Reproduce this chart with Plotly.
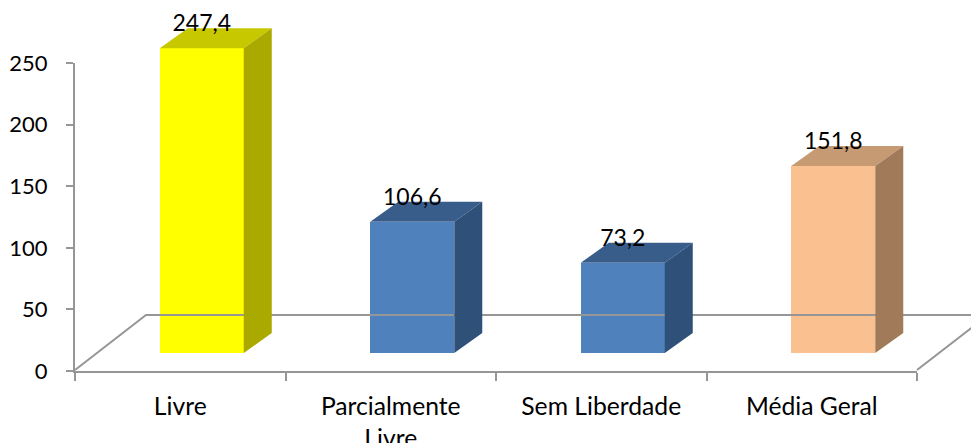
import plotly.graph_objects as go

categories = ["Livre", "Parcialmente<br>Livre", "Sem Liberdade", "Média Geral"]
values = [247.4, 106.6, 73.2, 151.8]
labels = ["247,4", "106,6", "73,2", "151,8"]
front = ["#ffff00", "#4f81bd", "#4f81bd", "#fac090"]
top = ["#c8c800", "#385d8a", "#385d8a", "#c69a73"]
side = ["#a9a900", "#2f5079", "#2f5079", "#a17a5a"]
y_ticks = [0, 50, 100, 150, 200, 250]

MARGIN = 8            # page margin of the browser
W, H = 979, 443 - MARGIN
L, R, T, B = 75 - MARGIN, 917 - MARGIN, 62 - MARGIN, 370 - MARGIN
ux = (R - L) / 4      # px per category
uy = (B - T) / 250    # px per value unit
dx = lambda px: px / ux
dy = lambda px: px / uy

bar_w = dx(84)
shift = dx(21.5)
floor_off = dy(17)
depth_x, depth_y = dx(28), dy(20)
xs = list(range(len(values)))
AXIS = "#969696"

fig = go.Figure()

# floor outline
fx0, fx1 = -0.5, 3.5
fig.add_trace(go.Scatter(
    x=[fx0, fx0 + dx(71), fx1 + dx(71), fx1],
    y=[0, dy(55), dy(55), 0],
    mode="lines", line=dict(color=AXIS, width=2),
    hoverinfo="skip", showlegend=False))

# front faces
fig.add_trace(go.Bar(
    x=[x + shift for x in xs], y=values, base=floor_off, width=bar_w,
    marker=dict(color=front, line=dict(width=0)),
    hoverinfo="skip", showlegend=False))

for x, v, tc, sc in zip(xs, values, top, side):
    xl = x + shift - bar_w / 2
    xr = x + shift + bar_w / 2
    yt = v + floor_off
    fig.add_trace(go.Scatter(
        x=[xl, xr, xr + depth_x, xl + depth_x, xl],
        y=[yt, yt, yt + depth_y, yt + depth_y, yt],
        fill="toself", fillcolor=tc, mode="none",
        hoverinfo="skip", showlegend=False))
    fig.add_trace(go.Scatter(
        x=[xr, xr + depth_x, xr + depth_x, xr, xr],
        y=[floor_off, floor_off + depth_y, yt + depth_y, yt, floor_off],
        fill="toself", fillcolor=sc, mode="none",
        hoverinfo="skip", showlegend=False))

# data labels
fig.add_trace(go.Scatter(
    x=[x + shift for x in xs], y=[v + floor_off + dy(22.5) for v in values],
    mode="text", text=labels, textposition="middle center",
    textfont=dict(family="Lato", size=23, color="#000000"),
    hoverinfo="skip", showlegend=False))

# carrier for the visible axes
fig.add_trace(go.Scatter(
    x=categories, y=values, xaxis="x2", yaxis="y2", mode="markers",
    marker=dict(opacity=0), hoverinfo="skip", showlegend=False))

fig.update_layout(
    width=W, height=H, autosize=False,
    margin=dict(l=0, r=0, t=0, b=0, autoexpand=False),
    paper_bgcolor="#ffffff", plot_bgcolor="rgba(0,0,0,0)",
    bargap=0,
    # full-canvas axes that hold the marks, on the same scale as the visible axes
    xaxis=dict(domain=[0, 1], range=[-0.5 - dx(L), -0.5 + dx(W - L)], visible=False,
               automargin=False),
    yaxis=dict(domain=[0, 1], range=[dy(B - H), dy(B)], visible=False,
               automargin=False),
    # visible axes
    xaxis2=dict(domain=[L / W, R / W], range=[-0.5, 3.5], type="category",
                anchor="y2", tickson="boundaries", ticks="outside", ticklen=8,
                tickcolor=AXIS, tickwidth=2, automargin=False,
                showgrid=False, zeroline=False, showline=True,
                linecolor=AXIS, linewidth=2, ticklabelstandoff=12,
                tickfont=dict(family="Lato", size=24.7, color="#000000")),
    yaxis2=dict(domain=[1 - (B + 1) / H, 1 - (T + 1) / H], range=[0, 250], anchor="x2",
                tickmode="array", tickvals=y_ticks, ticks="outside", ticklen=7,
                tickcolor=AXIS, tickwidth=2, automargin=False,
                showgrid=False, zeroline=False, showline=True,
                linecolor=AXIS, linewidth=2, ticklabelstandoff=14,
                tickfont=dict(family="Lato", size=22, color="#000000")),
    font=dict(family="Lato"),
)

fig.write_html("out.html")
